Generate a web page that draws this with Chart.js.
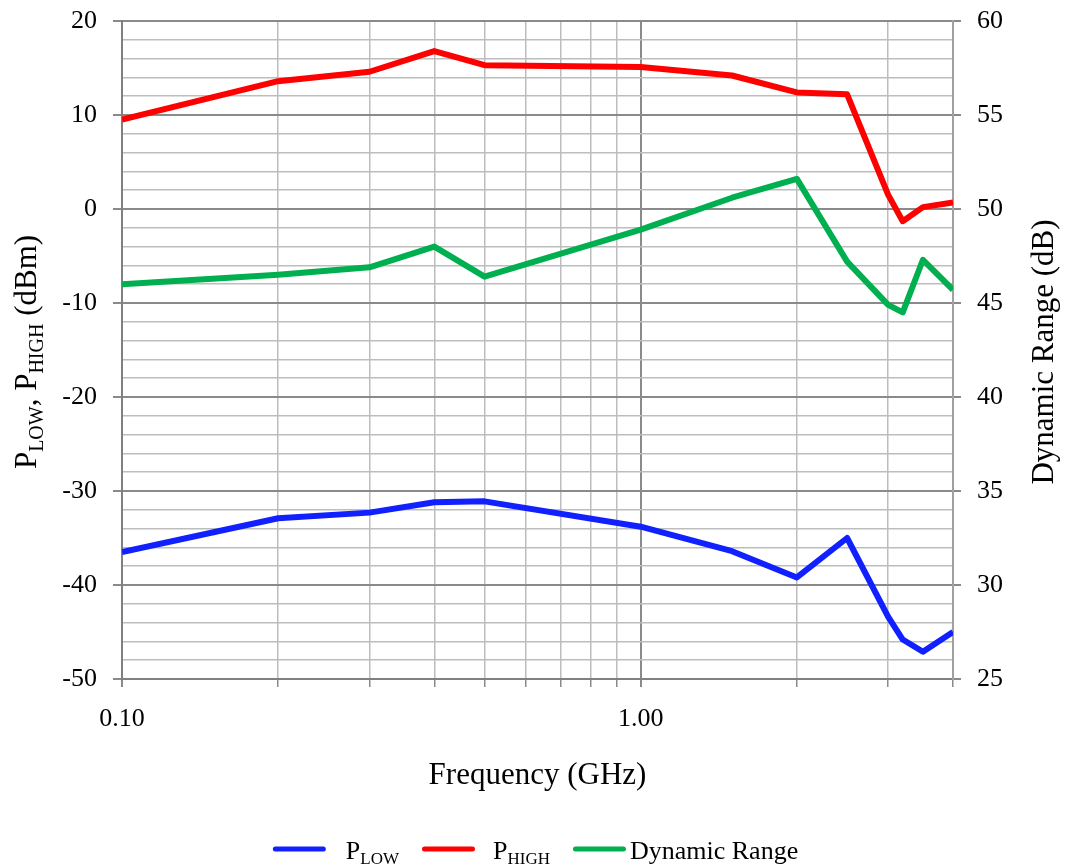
<!DOCTYPE html>
<html>
<head>
<meta charset="utf-8">
<script src="https://cdn.jsdelivr.net/npm/chart.js@4/dist/chart.umd.min.js"></script>
<style>
  html, body { margin: 0; padding: 0; background: #fff; }
</style>
</head>
<body>
<canvas id="chart" width="1067" height="865"></canvas>
<script>
// frequency points (GHz); the last one lies past the 4 GHz edge and gets clipped
const freqGHz  = [0.1, 0.2, 0.3, 0.4, 0.5, 1.0, 1.5, 2.0, 2.5, 3.0, 3.2, 3.5, 4.0, 4.5];
const pLow     = [-36.5, -32.9, -32.3, -31.2, -31.1, -33.8, -36.4, -39.2, -35.0, -43.4, -45.8, -47.1, -45.0, -44.0];
const pHigh    = [9.5, 13.6, 14.6, 16.8, 15.3, 15.1, 14.2, 12.4, 12.2, 1.5, -1.3, 0.2, 0.7, -14.0];
const dynRange = [46.0, 46.5, 46.9, 48.0, 46.4, 48.9, 50.6, 51.6, 47.2, 44.9, 44.5, 47.3, 45.7, 30.0];

const xGridValues = [0.1, 0.2, 0.3, 0.4, 0.5, 0.6, 0.7, 0.8, 0.9, 1, 2, 3, 4];
const xTickLabels = ['0.10', '1.00'];   // shown at 0.1 and 1
const leftTitle   = [['P', false], ['LOW', true], [', P', false], ['HIGH', true], [' (dBm)', false]];
const rightTitle  = 'Dynamic Range (dB)';
const xTitle      = 'Frequency (GHz)';
const legendItems = [
  { parts: [['P', false], ['LOW', true]],  color: '#1020ff', gap: 20 },
  { parts: [['P', false], ['HIGH', true]], color: '#ff0000', gap: 18 },
  { parts: [['Dynamic Range', false]],     color: '#00b050', gap: 4 }
];

const FONT = "'Liberation Serif', 'Times New Roman', serif";
const MAJOR = '#8a8a8a';
const MINOR = '#bdbdbd';

const toXY = (vals) => freqGHz.map((f, i) => ({ x: f, y: vals[i] }));

// draws a run of text pieces, some as subscripts
function drawParts(ctx, parts, x, y, size, subSize, subShift) {
  for (const [txt, sub] of parts) {
    ctx.font = (sub ? subSize : size) + 'px ' + FONT;
    ctx.fillText(txt, x, sub ? y + subShift : y);
    x += ctx.measureText(txt).width;
  }
  return x;
}
function partsWidth(ctx, parts, size, subSize) {
  let w = 0;
  for (const [txt, sub] of parts) {
    ctx.font = (sub ? subSize : size) + 'px ' + FONT;
    w += ctx.measureText(txt).width;
  }
  return w;
}

const extras = {
  id: 'extras',
  afterDraw(chart) {
    const ctx = chart.ctx;
    const area = chart.chartArea;
    const midY = (area.top + area.bottom) / 2 + 2;
    ctx.save();
    ctx.fillStyle = '#000';
    ctx.textBaseline = 'alphabetic';
    ctx.textAlign = 'left';

    // left title, rotated, with subscripts
    ctx.save();
    ctx.translate(36, midY);
    ctx.rotate(-Math.PI / 2);
    let w = partsWidth(ctx, leftTitle, 31, 20);
    drawParts(ctx, leftTitle, -w / 2, 0, 31, 20, 7);
    ctx.restore();

    // right title, reading upward
    ctx.save();
    ctx.translate(1053, midY);
    ctx.rotate(-Math.PI / 2);
    ctx.font = '31px ' + FONT;
    ctx.textAlign = 'center';
    ctx.fillText(rightTitle, 0, 0);
    ctx.restore();

    // legend
    const lineLen = 48, itemGap = 23;
    let total = 0;
    legendItems.forEach((it, i) => {
      it.w = partsWidth(ctx, it.parts, 26, 17);
      total += lineLen + 5 + it.gap + it.w + (i < legendItems.length - 1 ? itemGap : 0);
    });
    let x = chart.width / 2 + 2 - total / 2;
    const ly = 849;
    for (const it of legendItems) {
      ctx.strokeStyle = it.color;
      ctx.lineWidth = 5;
      ctx.lineCap = 'round';
      ctx.beginPath();
      ctx.moveTo(x + 2.5, ly);
      ctx.lineTo(x + 2.5 + lineLen, ly);
      ctx.stroke();
      x += lineLen + 5 + it.gap;
      x = drawParts(ctx, it.parts, x, 859, 26, 17, 5) + itemGap;
    }
    ctx.restore();
  }
};

const lineStyle = { borderWidth: 6, pointRadius: 0, tension: 0, borderJoinStyle: 'round', fill: false };

new Chart(document.getElementById('chart'), {
  type: 'line',
  data: {
    datasets: [
      { label: 'P_LOW', data: toXY(pLow), borderColor: '#1020ff', yAxisID: 'y', ...lineStyle },
      { label: 'P_HIGH', data: toXY(pHigh), borderColor: '#ff0000', yAxisID: 'y', ...lineStyle },
      { label: 'Dynamic Range', data: toXY(dynRange), borderColor: '#00b050', yAxisID: 'y2', ...lineStyle }
    ]
  },
  options: {
    responsive: false,
    animation: false,
    devicePixelRatio: 1,
    layout: { padding: { top: 21, left: 0, right: 0, bottom: 0 } },
    plugins: { legend: { display: false }, tooltip: { enabled: false } },
    scales: {
      x: {
        type: 'logarithmic',
        position: 'bottom',
        min: 0.1,
        max: 4,
        afterFit(scale) { scale.height = 186; scale.paddingLeft = 0; scale.paddingRight = 0; },
        afterBuildTicks(scale) { scale.ticks = xGridValues.map(v => ({ value: v })); },
        border: { color: '#808080', width: 2 },
        grid: {
          color: (c) => (c.tick && (c.tick.value === 0.1 || c.tick.value === 1)) ? MAJOR : MINOR,
          lineWidth: (c) => (c.tick && (c.tick.value === 0.1 || c.tick.value === 1)) ? 2 : 1.5,
          tickColor: MAJOR,
          tickLength: 8
        },
        ticks: {
          autoSkip: false,
          maxRotation: 0,
          padding: 17,
          color: '#000',
          font: { family: FONT, size: 26 },
          callback: (v) => v === 0.1 ? xTickLabels[0] : (v === 1 ? xTickLabels[1] : '')
        },
        title: {
          display: true,
          text: xTitle,
          color: '#000',
          font: { family: FONT, size: 31 },
          padding: { top: 0, bottom: 71 }
        }
      },
      y: {
        type: 'linear',
        position: 'left',
        min: -50,
        max: 20,
        afterFit(scale) { scale.width = 122; scale.paddingTop = 0; scale.paddingBottom = 0; },
        border: { color: '#808080', width: 2 },
        grid: {
          color: (c) => c.tick.value % 10 === 0 ? MAJOR : MINOR,
          lineWidth: (c) => c.tick.value % 10 === 0 ? 2 : 1.5,
          tickColor: (c) => c.tick.value % 10 === 0 ? MAJOR : 'rgba(0,0,0,0)',
          tickLength: 9
        },
        ticks: {
          stepSize: 2,
          autoSkip: false,
          padding: 16,
          color: '#000',
          font: { family: FONT, size: 26 },
          callback: (v) => v % 10 === 0 ? String(v) : ''
        }
      },
      y2: {
        type: 'linear',
        position: 'right',
        min: 25,
        max: 60,
        afterFit(scale) { scale.width = 114; scale.paddingTop = 0; scale.paddingBottom = 0; },
        border: { color: '#a0a0a0', width: 2 },
        grid: { drawOnChartArea: false, tickColor: MAJOR, tickLength: 8, lineWidth: 2 },
        ticks: {
          stepSize: 5,
          padding: 16,
          color: '#000',
          font: { family: FONT, size: 26 }
        }
      }
    }
  },
  plugins: [extras]
});
</script>
</body>
</html>
